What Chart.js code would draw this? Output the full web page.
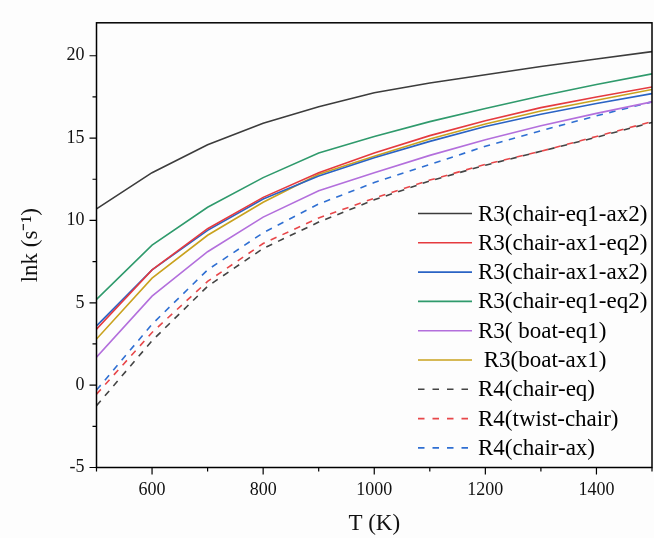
<!DOCTYPE html>
<html>
<head>
<meta charset="utf-8">
<script src="https://cdn.jsdelivr.net/npm/chart.js@4.4.1/dist/chart.umd.min.js"></script>
<style>
  html, body { margin: 0; padding: 0; background: #fdfdfd; overflow: hidden; }
  #wrap { width: 664px; height: 538px; }
</style>
</head>
<body>
<div id="wrap"><canvas id="rateChart" width="664" height="538"></canvas></div>
<script>
// temperatures (K)
const temps = [500, 600, 700, 800, 900, 1000, 1100, 1200, 1300, 1400, 1500];

// lnk values
const r3ChairEq1Ax2 = [10.7, 12.9, 14.6, 15.9, 16.9, 17.75, 18.35, 18.85, 19.35, 19.8, 20.25];
const r3ChairAx1Eq2 = [3.4, 7.0, 9.5, 11.4, 12.9, 14.1, 15.15, 16.05, 16.85, 17.5, 18.1];
const r3ChairAx1Ax2 = [3.6, 7.0, 9.4, 11.3, 12.7, 13.8, 14.8, 15.7, 16.45, 17.1, 17.7];
const r3ChairEq1Eq2 = [5.2, 8.5, 10.8, 12.6, 14.1, 15.1, 16.0, 16.8, 17.55, 18.25, 18.9];
const r3BoatEq1 = [1.7, 5.4, 8.1, 10.2, 11.8, 12.9, 13.95, 14.9, 15.75, 16.5, 17.2];
const r3BoatAx1 = [2.8, 6.5, 9.1, 11.1, 12.8, 13.9, 14.95, 15.85, 16.65, 17.3, 17.95];
const r4ChairEq = [-1.25, 2.7, 6.0, 8.3, 9.9, 11.25, 12.4, 13.35, 14.2, 15.05, 15.95];
const r4TwistChair = [-0.55, 3.2, 6.3, 8.6, 10.15, 11.35, 12.45, 13.4, 14.2, 15.1, 16.0];
const r4ChairAx = [-0.3, 3.7, 7.0, 9.25, 11.0, 12.3, 13.4, 14.5, 15.45, 16.35, 17.2];

const seriesNames = [
  'R3(chair-eq1-ax2)', 'R3(chair-ax1-eq2)', 'R3(chair-ax1-ax2)', 'R3(chair-eq1-eq2)',
  'R3( boat-eq1)', ' R3(boat-ax1)', 'R4(chair-eq)', 'R4(twist-chair)', 'R4(chair-ax)'
];
const seriesValues = [
  r3ChairEq1Ax2, r3ChairAx1Eq2, r3ChairAx1Ax2, r3ChairEq1Eq2,
  r3BoatEq1, r3BoatAx1, r4ChairEq, r4TwistChair, r4ChairAx
];
const seriesColors = [
  '#3c3c3c', '#e53a3f', '#2a63c4', '#2f9a6c',
  '#b36fdc', '#c9a21e', '#444444', '#e8474a', '#2f6fd2'
];
const seriesDashed = [false, false, false, false, false, false, true, true, true];

const serif = "'Liberation Serif', 'Times New Roman', serif";

const datasets = seriesNames.map((name, i) => ({
  label: name,
  data: temps.map((t, j) => ({ x: t, y: seriesValues[i][j] })),
  borderColor: seriesColors[i],
  borderWidth: 1.6,
  borderDash: seriesDashed[i] ? [6.5, 6.5] : [],
  pointRadius: 0,
  tension: 0,
  fill: false
}));

// frame, outward major/minor ticks and the inset legend
const decorations = {
  id: 'decorations',
  afterDraw(chart) {
    const ctx = chart.ctx;
    const area = chart.chartArea;
    const xs = chart.scales.x;
    const ys = chart.scales.y;
    ctx.save();
    ctx.strokeStyle = '#000';
    ctx.lineWidth = 1.5;
    ctx.strokeRect(area.left, area.top, area.right - area.left, area.bottom - area.top);

    ctx.lineWidth = 1.2;
    ctx.beginPath();
    xs.ticks.forEach(t => {
      const px = xs.getPixelForValue(t.value);
      const len = t.value % 200 === 0 ? 7 : 4;
      ctx.moveTo(px, area.bottom);
      ctx.lineTo(px, area.bottom + len);
    });
    ys.ticks.forEach(t => {
      const py = ys.getPixelForValue(t.value);
      const len = t.value % 5 === 0 ? 7 : 4;
      ctx.moveTo(area.left, py);
      ctx.lineTo(area.left - len, py);
    });
    ctx.stroke();

    // legend
    ctx.font = '23px ' + serif;
    ctx.textBaseline = 'middle';
    ctx.textAlign = 'left';
    chart.data.datasets.forEach((ds, i) => {
      const y = 213.5 + i * 29.3;
      ctx.strokeStyle = ds.borderColor;
      ctx.lineWidth = 1.6;
      ctx.setLineDash(ds.borderDash.length ? [6.5, 8] : []);
      ctx.beginPath();
      ctx.moveTo(418, y);
      ctx.lineTo(472, y);
      ctx.stroke();
      ctx.setLineDash([]);
      ctx.fillStyle = '#000';
      ctx.fillText(ds.label, 478, y + 1);
    });
    ctx.restore();
  }
};

new Chart(document.getElementById('rateChart'), {
  type: 'line',
  data: { datasets: datasets },
  options: {
    responsive: false,
    animation: false,
    layout: { padding: { top: 13, right: 4.4, left: 0, bottom: 0 } },
    plugins: { legend: { display: false }, tooltip: { enabled: false } },
    scales: {
      x: {
        type: 'linear',
        min: 500,
        max: 1500,
        afterFit: s => { s.height = 70.5; },
        grid: { display: false, drawTicks: false },
        border: { display: false },
        ticks: {
          stepSize: 100,
          autoSkip: false,
          maxRotation: 0,
          padding: 12,
          color: '#111',
          font: { family: serif, size: 18 },
          callback: v => (v % 200 === 0 ? String(v) : '')
        },
        title: {
          display: true,
          text: 'T (K)',
          color: '#111',
          font: { family: serif, size: 23 },
          padding: { top: 0, bottom: 0 }
        }
      },
      y: {
        min: -5,
        max: 22,
        afterFit: s => { s.width = 96.5; },
        grid: { display: false, drawTicks: false },
        border: { display: false },
        ticks: {
          stepSize: 2.5,
          includeBounds: false,
          autoSkip: false,
          padding: 12,
          color: '#111',
          font: { family: serif, size: 18 },
          callback: v => (v % 5 === 0 ? String(v) : '')
        },
        title: {
          display: true,
          text: 'lnk (s⁻¹)',
          color: '#111',
          font: { family: serif, size: 23 },
          padding: { top: 17, bottom: 0 }
        }
      }
    }
  },
  plugins: [decorations]
});
</script>
</body>
</html>
